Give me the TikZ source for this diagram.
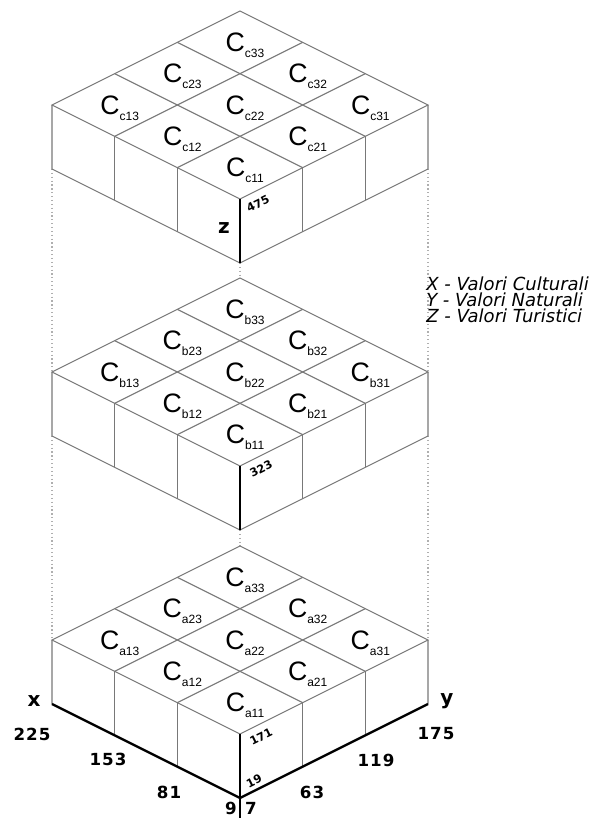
\documentclass[tikz,border=0pt]{standalone}
\usepackage{fontspec}
\setmainfont{Liberation Sans}
\newfontfamily\numfont[LetterSpace=6]{DejaVu Sans}
\newfontfamily\ticksfont{DejaVu Sans}
\newfontfamily\legendfont{DejaVu Sans}
\usepackage{tikz}
\definecolor{gridgray}{RGB}{120,120,120}
\definecolor{linkgray}{RGB}{175,175,175}

\newcommand{\cellname}[1]{C\raisebox{-4.5pt}{\fontsize{9}{9}\selectfont #1}}

\tikzset{
  edgeline/.style={draw=gridgray, line width=0.8pt},
  axisline/.style={draw=black, line width=1.8pt},
  linkline/.style={draw=linkgray, dotted, line width=0.9pt},
  celllabel/.style={font=\fontsize{20}{20}\selectfont, inner sep=0pt},
  axisnum/.style={font=\numfont\bfseries\fontsize{12.5}{13}\selectfont, inner sep=0pt},
  axisletter/.style={font=\numfont\bfseries\fontsize{15}{15}\selectfont, inner sep=0pt},
  ticknum/.style={font=\ticksfont\bfseries\fontsize{8.5}{9}\selectfont, rotate=26.57, inner sep=0pt},
  legendtext/.style={font=\legendfont\itshape\fontsize{13.5}{14}\selectfont, anchor=west, inner sep=0pt}
}

\begin{document}
\begin{tikzpicture}[x=0.75pt, y=-0.75pt]
  \useasboundingbox (0,0) rectangle (595,818);

  %% Links between the layers
  \foreach \Fa/\Fb in {199/466, 466/734}{
    \draw[linkline] (52,\Fa-30) -- (52,\Fb-94);
    \draw[linkline] (428,\Fa-30) -- (428,\Fb-94);
    \draw[linkline] (240,\Fa+64) -- (240,\Fb-94);
  }

  %% Three layers, top (c) to bottom (a)
  \foreach \F/\s in {199/c, 466/b, 734/a}{
    %% top face and its 3x3 grid
    \draw[edgeline, fill=white] (240,\F-188) -- (428,\F-94) -- (240,\F) -- (52,\F-94) -- cycle;
    \foreach \k in {1,2}{
      \draw[edgeline] ({240+62.67*\k},{\F-31.33*\k}) -- ({52+62.67*\k},{\F-94-31.33*\k});
      \draw[edgeline] ({240-62.67*\k},{\F-31.33*\k}) -- ({428-62.67*\k},{\F-94-31.33*\k});
      \draw[edgeline] ({240-62.67*\k},{\F-31.33*\k}) -- ({240-62.67*\k},{\F-31.33*\k+64});
      \draw[edgeline] ({240+62.67*\k},{\F-31.33*\k}) -- ({240+62.67*\k},{\F-31.33*\k+64});
    }
    %% side faces
    \draw[edgeline] (52,\F-94) -- (52,\F-30) -- (240,\F+64) -- (428,\F-30) -- (428,\F-94);
    \draw[axisline] (240,\F) -- (240,\F+64);
    %% cell names
    \foreach \p in {1,2,3}{
      \foreach \q in {1,2,3}{
        \node[celllabel] (c\s\p\q) at ({245+(\p-\q)*62.67},{\F+3-(\p+\q-1)*31.33}) {\cellname{\s\p\q}};
      }
    }
  }

  %% Axes of the bottom layer
  \draw[axisline] (52,704) -- (240,798) -- (428,704);
  \draw[axisline] (240,798) -- (240,818);

  \node[axisletter] (xname) at (34,701) {x};
  \node[axisletter] (yname) at (447,701) {y};
  \node[axisletter] (zname) at (224,228) {z};

  \foreach \px/\py/\v in {32/734/225, 108/759/153, 169/792/81}{
    \node[axisnum] (xnum\v) at (\px,\py) {\v};
  }
  \foreach \px/\py/\v in {436/734/175, 376/760/119, 312/792/63}{
    \node[axisnum] (ynum\v) at (\px,\py) {\v};
  }
  \node[axisnum] (xnum9) at (231,808) {9};
  \node[axisnum] (ynum7) at (251,808) {7};

  \node[ticknum] (tick475) at (258,204) {475};
  \node[ticknum] (tick323) at (261,469) {323};
  \node[ticknum] (tick171) at (261,737) {171};
  \node[ticknum] (tick19) at (254,781) {19};

  %% Legend
  \node[legendtext] (legx) at (426,284) {X - Valori Culturali};
  \node[legendtext] (legy) at (426,300) {Y - Valori Naturali};
  \node[legendtext] (legz) at (426,316) {Z - Valori Turistici};
\end{tikzpicture}
\end{document}
